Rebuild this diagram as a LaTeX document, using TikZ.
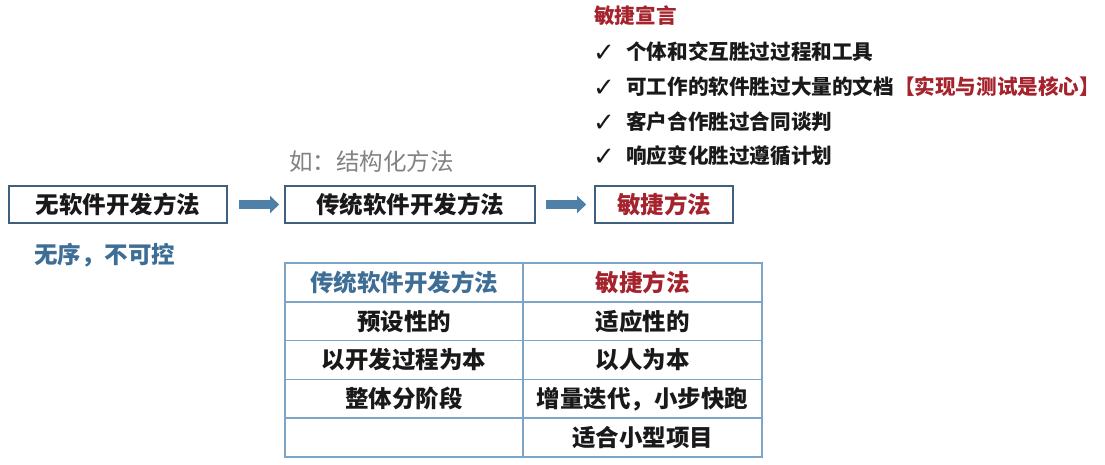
\documentclass[tikz,border=0pt]{standalone}
\usepackage{fontspec}
\usetikzlibrary{arrows.meta}
\newfontfamily\cjk{Noto Sans CJK SC}
\newfontfamily\symf{DejaVu Sans}
\definecolor{arrowblue}{RGB}{78,128,168}
\definecolor{boxline}{RGB}{62,96,126}
\definecolor{tabline}{RGB}{125,165,200}
\definecolor{agred}{RGB}{165,35,45}
\definecolor{noteblue}{RGB}{62,110,150}
\definecolor{notegray}{RGB}{130,130,130}
\definecolor{txt}{RGB}{25,25,25}
\tikzset{
  big/.style={font=\cjk\bfseries\fontsize{23.5}{26}\selectfont},
  mid/.style={font=\cjk\bfseries\fontsize{20.6}{24}\selectfont},
  methodbox/.style={draw=boxline, line width=1.8pt, minimum height=37pt, inner sep=0pt, big, text=txt},
  flowarrow/.style={draw=arrowblue, line width=9pt, -{Triangle[length=9pt,width=17pt]}},
  cell/.style={draw=tabline, line width=1.5pt, minimum height=38.8pt, inner sep=0pt, big, text=txt},
  checkline/.style={anchor=west, inner sep=0pt, mid, text=txt},
  checkmark/.style={inner sep=0pt, font=\symf\fontsize{26}{28}\selectfont, text=txt}
}
\begin{document}
\begin{tikzpicture}[x=1pt,y=-1pt]
\useasboundingbox[fill=white] (0,0) rectangle (1105,465);

% flow boxes
\node[methodbox, minimum width=218pt] (b1) at (118,204.5) {无软件开发方法};
\node[methodbox, minimum width=250pt] (b2) at (410,204.5) {传统软件开发方法};
\node[methodbox, minimum width=138pt, text=agred] (b3) at (664,204.5) {敏捷方法};

\draw[flowarrow, shorten <=11pt, shorten >=5pt] (b1) -- (b2);
\draw[flowarrow, shorten <=10pt, shorten >=8pt] (b2) -- (b3);

% notes
\node[text=notegray, anchor=west, inner sep=0pt, font=\cjk\fontsize{23.5}{26}\selectfont] (n1) at (289,162) {如：结构化方法};
\node[big, text=noteblue, anchor=west, inner sep=0pt] (n2) at (34,255) {无序，不可控};

% agile manifesto
\node[mid, text=agred, anchor=west, inner sep=0pt] (m0) at (594,16) {敏捷宣言};
\node[checkmark] (c1) at (604,53) {✓};
\node[checkmark] (c2) at (604,88) {✓};
\node[checkmark] (c3) at (604,123) {✓};
\node[checkmark] (c4) at (604,157) {✓};
\node[checkline] (m1) at (626,52) {个体和交互胜过过程和工具};
\node[checkline] (m2) at (626,87) {可工作的软件胜过大量的文档\textcolor{agred}{【实现与测试是核心】}};
\node[checkline] (m3) at (626,122) {客户合作胜过合同谈判};
\node[checkline] (m4) at (626,156) {响应变化胜过遵循计划};

% comparison table
\node[cell, minimum width=238pt, text=noteblue] (t11) at (404,282.4) {传统软件开发方法};
\node[cell, minimum width=239pt, text=agred]    (t12) at (642.5,282.4) {敏捷方法};
\node[cell, minimum width=238pt] (t21) at (404,321.2) {预设性的};
\node[cell, minimum width=239pt] (t22) at (642.5,321.2) {适应性的};
\node[cell, minimum width=238pt] (t31) at (404,360) {以开发过程为本};
\node[cell, minimum width=239pt] (t32) at (642.5,360) {以人为本};
\node[cell, minimum width=238pt] (t41) at (404,398.8) {整体分阶段};
\node[cell, minimum width=239pt] (t42) at (642.5,398.8) {增量迭代，小步快跑};
\node[cell, minimum width=238pt] (t51) at (404,437.6) {};
\node[cell, minimum width=239pt] (t52) at (642.5,437.6) {适合小型项目};
\end{tikzpicture}
\end{document}
